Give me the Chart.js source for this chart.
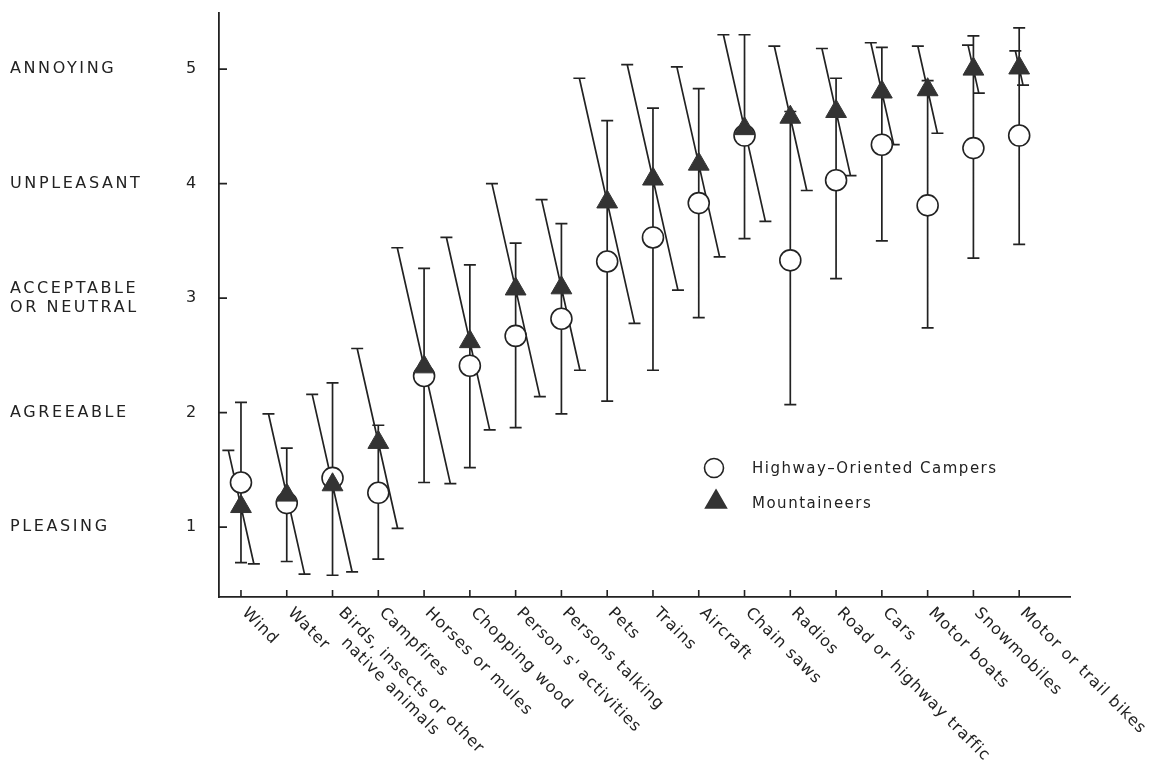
<!DOCTYPE html>
<html>
<head>
<meta charset="utf-8">
<script src="https://cdn.jsdelivr.net/npm/chart.js@4.4.1/dist/chart.umd.min.js"></script>
<style>
  html, body { margin: 0; padding: 0; background: #fff; }
</style>
</head>
<body>
<canvas id="noiseChart" width="1152" height="761"></canvas>
<script>
const categories = [
    'Wind', 'Water', ['Birds, insects or other', 'native animals'], 'Campfires',
    'Horses or mules', 'Chopping wood', "Person s' activities", 'Persons talking',
    'Pets', 'Trains', 'Aircraft', 'Chain saws', 'Radios', 'Road or highway traffic',
    'Cars', 'Motor boats', 'Snowmobiles', 'Motor or trail bikes'
];

// Highway-oriented campers (circles, vertical bars)
const campersMean = [1.39, 1.21, 1.43, 1.30, 2.32, 2.41, 2.67, 2.82, 3.32, 3.53, 3.83, 4.42, 3.33, 4.03, 4.34, 3.81, 4.31, 4.42];
const campersLow  = [0.69, 0.70, 0.58, 0.72, 1.39, 1.52, 1.87, 1.99, 2.10, 2.37, 2.83, 3.52, 2.07, 3.17, 3.50, 2.74, 3.35, 3.47];
const campersHigh = [2.09, 1.69, 2.26, 1.89, 3.26, 3.29, 3.48, 3.65, 4.55, 4.66, 4.83, 5.30, 4.63, 4.92, 5.19, 4.90, 5.29, 5.36];

// Mountaineers (triangles, slanted bars)
const mountMean = [1.18, 1.28, 1.37, 1.74, 2.40, 2.62, 3.08, 3.09, 3.84, 4.04, 4.17, 4.48, 4.58, 4.63, 4.80, 4.82, 5.00, 5.01];
const mountLow  = [0.68, 0.59, 0.61, 0.99, 1.38, 1.85, 2.14, 2.37, 2.78, 3.07, 3.36, 3.67, 3.94, 4.07, 4.34, 4.44, 4.79, 4.86];
const mountHigh = [1.67, 1.99, 2.16, 2.56, 3.44, 3.53, 4.00, 3.86, 4.92, 5.04, 5.02, 5.30, 5.20, 5.18, 5.23, 5.20, 5.21, 5.16];

const yTicks = [1, 2, 3, 4, 5];
const yWords = ['PLEASING', 'AGREEABLE', ['ACCEPTABLE', 'OR NEUTRAL'], 'UNPLEASANT', 'ANNOYING'];
const seriesNames = ['Highway\u2013Oriented Campers', 'Mountaineers'];

const INK = '#222';
const SLANT = 0.225; // dx per dy of the mountaineer bars

function cap(ctx, x, y, w) {
    ctx.moveTo(x - w / 2, y);
    ctx.lineTo(x + w / 2, y);
}

const decorations = {
    id: 'decorations',
    beforeDatasetsDraw(chart) {
        const { ctx, scales: { x, y } } = chart;
        ctx.save();
        ctx.strokeStyle = INK;
        ctx.lineWidth = 1.7;
        ctx.beginPath();
        categories.forEach((_, i) => {
            const px = x.getPixelForValue(i);
            const t = y.getPixelForValue(campersHigh[i]);
            const b = y.getPixelForValue(campersLow[i]);
            ctx.moveTo(px, t);
            ctx.lineTo(px, b);
            cap(ctx, px, t, 12);
            cap(ctx, px, b, 12);

            const c = y.getPixelForValue(mountMean[i]);
            const t2 = y.getPixelForValue(mountHigh[i]);
            const b2 = y.getPixelForValue(mountLow[i]);
            const xt = px - (c - t2) * SLANT;
            const xb = px + (b2 - c) * SLANT;
            ctx.moveTo(xt, t2);
            ctx.lineTo(xb, b2);
            cap(ctx, xt, t2, 12);
            cap(ctx, xb, b2, 12);
        });
        ctx.stroke();
        ctx.restore();
    },
    afterDraw(chart) {
        const { ctx, chartArea: area, scales: { x, y } } = chart;
        ctx.save();
        ctx.strokeStyle = INK;
        ctx.fillStyle = INK;
        ctx.lineWidth = 1.6;

        // inner tick marks
        ctx.beginPath();
        yTicks.forEach(v => {
            const py = y.getPixelForValue(v);
            ctx.moveTo(area.left, py);
            ctx.lineTo(area.left + 8, py);
        });
        categories.forEach((_, i) => {
            const px = x.getPixelForValue(i);
            ctx.moveTo(px, area.bottom);
            ctx.lineTo(px, area.bottom - 7);
        });
        ctx.stroke();

        // y labels: numbers + words
        ctx.textBaseline = 'middle';
        ctx.font = '16px "DejaVu Sans"';
        ctx.textAlign = 'center';
        yTicks.forEach(v => ctx.fillText(String(v), area.left - 28, y.getPixelForValue(v)));

        ctx.textAlign = 'left';
        ctx.font = '16px "DejaVu Sans"';
        ctx.letterSpacing = '2.6px';
        yWords.forEach((w, i) => {
            const lines = [].concat(w);
            const py = y.getPixelForValue(yTicks[i]);
            lines.forEach((ln, k) => {
                ctx.fillText(ln, 10, py + (k - (lines.length - 1) / 2) * 19);
            });
        });

        // rotated category labels
        ctx.font = '16px "DejaVu Sans"';
        ctx.letterSpacing = '1px';
        ctx.textBaseline = 'top';
        categories.forEach((label, i) => {
            const lines = [].concat(label);
            const px = x.getPixelForValue(i);
            ctx.save();
            ctx.translate(px + 9 + (lines.length > 1 ? 5 : 0), area.bottom + 8);
            ctx.rotate(Math.PI / 4);
            lines.forEach((ln, k) => ctx.fillText(ln, k * 23, k * 19));
            ctx.restore();
        });

        // legend
        const lx = area.left + 495, ly = area.top + 455;
        ctx.letterSpacing = '1.5px';
        ctx.textBaseline = 'middle';
        ctx.font = '15px "DejaVu Sans"';
        ctx.fillStyle = '#fff';
        ctx.lineWidth = 1.6;
        Chart.helpers.drawPoint(ctx, { pointStyle: 'circle', radius: 9.5, borderWidth: 1.6 }, lx, ly);
        ctx.fillStyle = '#333';
        ctx.strokeStyle = '#333';
        Chart.helpers.drawPoint(ctx, { pointStyle: 'triangle', radius: 12, borderWidth: 1 }, lx + 2, ly + 34);
        ctx.fillStyle = INK;
        ctx.fillText(seriesNames[0], lx + 38, ly + 1);
        ctx.fillText(seriesNames[1], lx + 38, ly + 36);
        ctx.restore();
    }
};

const toPoints = vals => vals.map((v, i) => ({ x: i, y: v }));

new Chart(document.getElementById('noiseChart'), {
    type: 'scatter',
    data: {
        datasets: [{
            label: seriesNames[0],
            data: toPoints(campersMean),
            pointStyle: 'circle',
            pointRadius: 10.5,
            backgroundColor: '#fff',
            borderColor: INK,
            borderWidth: 1.6,
            order: 1
        }, {
            label: seriesNames[1],
            data: toPoints(mountMean),
            pointStyle: 'triangle',
            pointRadius: 12,
            backgroundColor: '#333',
            borderColor: '#333',
            borderWidth: 1,
            order: 0
        }]
    },
    options: {
        responsive: false,
        animation: false,
        layout: { padding: { left: 219, right: 82, top: 12, bottom: 164 } },
        plugins: {
            legend: { display: false },
            tooltip: { enabled: false }
        },
        scales: {
            x: {
                type: 'linear',
                min: -0.48,
                max: 18.11,
                ticks: { display: false },
                grid: { display: true, drawOnChartArea: false, drawTicks: false },
                border: { color: INK, width: 1.8 }
            },
            y: {
                min: 0.39,
                max: 5.49,
                ticks: { display: false },
                grid: { display: true, drawOnChartArea: false, drawTicks: false },
                border: { color: INK, width: 1.8 }
            }
        }
    },
    plugins: [decorations]
});
</script>
</body>
</html>
